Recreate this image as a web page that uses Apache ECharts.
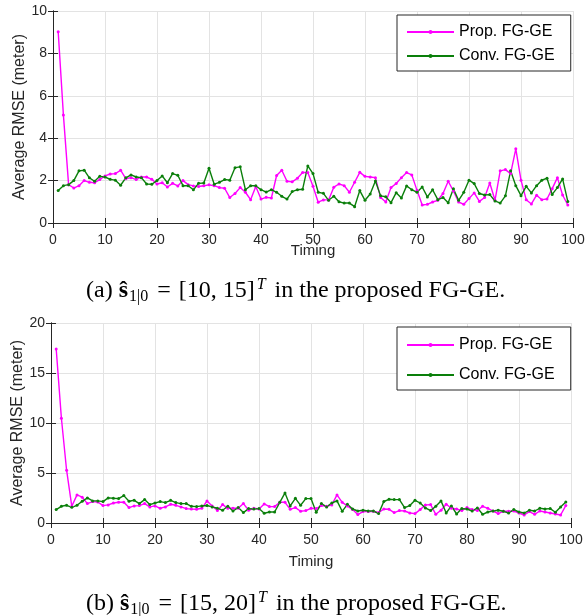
<!DOCTYPE html>
<html>
<head>
<meta charset="utf-8">
<script src="https://cdn.jsdelivr.net/npm/echarts@6/dist/echarts.min.js"></script>
<style>html,body{margin:0;padding:0;background:#fff;}#c{width:585px;height:616px;}</style>
</head>
<body>
<div id="c"></div>
<script>
const timing = [1,2,3,4,5,6,7,8,9,10,11,12,13,14,15,16,17,18,19,20,21,22,23,24,25,26,27,28,29,30,31,32,33,34,35,36,37,38,39,40,41,42,43,44,45,46,47,48,49,50,51,52,53,54,55,56,57,58,59,60,61,62,63,64,65,66,67,68,69,70,71,72,73,74,75,76,77,78,79,80,81,82,83,84,85,86,87,88,89,90,91,92,93,94,95,96,97,98,99];
const seriesNames = ['Prop. FG-GE', 'Conv. FG-GE'];
const xTicks = [0,10,20,30,40,50,60,70,80,90,100];
const yTicksA = [0,2,4,6,8,10];
const yTicksB = [0,5,10,15,20];

const propA = [9.02,5.1,1.81,1.65,1.76,2.0,1.92,1.9,2.05,2.22,2.31,2.33,2.49,2.09,2.14,2.05,2.17,2.17,2.06,1.84,1.9,1.7,1.87,1.75,2.0,1.81,1.75,1.72,1.76,1.8,1.76,1.67,1.64,1.2,1.39,1.67,1.45,1.1,1.72,1.13,1.21,1.18,2.24,2.49,1.97,1.94,2.11,2.38,2.38,1.73,0.98,1.09,1.09,1.69,1.84,1.76,1.45,1.92,2.39,2.2,2.17,2.14,1.2,0.99,1.67,1.86,2.14,2.38,2.27,1.54,0.85,0.88,0.99,1.07,1.39,1.97,1.51,0.99,0.88,1.15,1.42,1.02,1.2,1.89,1.07,2.46,2.52,2.33,3.5,2.02,1.1,0.9,1.31,1.1,1.13,1.62,2.14,1.32,0.85];
const convA = [1.53,1.76,1.81,2.0,2.46,2.49,2.13,1.97,2.2,2.17,2.06,2.02,1.78,2.13,2.27,2.17,2.14,1.84,1.83,2.0,2.22,1.9,2.33,2.25,1.76,1.76,1.57,1.87,1.89,2.58,1.83,1.92,2.05,2.02,2.61,2.65,1.57,1.76,1.76,1.57,1.46,1.57,1.45,1.26,1.13,1.48,1.57,1.59,2.69,2.33,1.45,1.4,1.07,1.26,1.0,0.94,0.94,0.77,1.53,1.07,1.37,1.98,1.28,1.24,0.96,1.43,1.18,1.75,1.57,1.45,1.7,1.23,1.57,1.1,1.2,0.96,1.61,1.07,1.45,2.02,1.86,1.39,1.32,1.34,1.04,0.94,1.28,2.46,1.76,1.29,1.73,1.42,1.76,2.02,2.11,1.35,1.67,2.08,1.02];
const propB = [17.4,10.47,5.28,1.67,2.81,2.58,1.94,2.14,2.1,1.74,1.81,2.0,2.07,2.07,1.54,1.71,1.74,1.94,1.61,1.71,1.47,1.61,1.87,1.77,1.61,1.44,1.4,1.37,1.47,2.2,1.7,1.25,1.84,1.47,1.47,1.47,1.94,1.27,1.47,1.4,1.91,1.64,1.64,2.07,2.07,1.37,1.54,1.17,1.24,1.47,1.44,1.74,1.67,1.81,2.81,2.07,1.71,1.34,0.84,1.14,1.14,1.17,1.04,1.4,1.37,1.04,1.24,1.2,1.0,0.94,1.34,1.81,1.84,0.87,1.27,1.87,1.47,1.4,1.24,1.54,1.34,1.24,1.67,1.47,1.2,0.94,1.17,1.17,1.2,1.0,0.8,1.14,0.87,1.2,1.1,1.0,0.9,0.8,1.74];
const convB = [1.34,1.67,1.77,1.57,1.77,2.17,2.51,2.21,2.21,2.14,2.51,2.47,2.44,2.74,2.17,2.27,1.94,2.34,1.84,2.0,2.14,2.04,2.27,2.04,1.94,1.94,1.67,1.64,1.71,1.75,1.61,1.48,1.27,1.67,1.2,1.54,1.04,1.44,1.4,1.44,0.97,1.1,1.1,2.07,3.01,1.71,2.47,1.77,2.44,2.44,1.07,1.94,1.61,2.0,2.21,1.17,1.87,1.4,1.2,1.27,1.2,1.2,0.94,2.15,2.37,2.34,2.34,1.54,1.74,2.27,2.0,1.51,1.24,1.67,2.21,1.0,1.71,0.9,1.44,1.4,1.2,1.51,0.87,1.1,1.2,1.27,1.17,1.0,1.34,1.1,1.0,1.27,1.2,1.47,1.4,1.44,1.07,1.61,2.11];

const AX = '#262626';
const GRID = '#e3e3e3';
const PINK = '#ff00ff';
const GREEN = '#0a7f0a';
const FONT = 'Liberation Sans, Arial, Helvetica, sans-serif';
const SERIF = 'Liberation Serif, Times New Roman, serif';

function pairs(vals){ return timing.map((t,i)=>[t, vals[i]]); }

function xMain(gi, name){
  return {type:'value', gridIndex:gi, min:xTicks[0], max:xTicks[xTicks.length-1], interval:10,
    name:name, nameLocation:'middle', nameGap: gi===0 ? 20 : 31, nameMoveOverlap:false,
    nameTextStyle:{color:AX, fontFamily:FONT, fontSize:15},
    axisLine:{show:true, lineStyle:{color:AX, width:1}},
    axisTick:{show:true, inside:true, length:5, lineStyle:{color:AX}},
    axisLabel:{color:AX, fontFamily:FONT, fontSize:14, margin:10},
    splitLine:{show:true, lineStyle:{color:GRID, width:1}}};
}
function xTop(gi){
  return {type:'value', gridIndex:gi, position:'top', min:0, max:100, interval:10,
    axisLine:{show:true, lineStyle:{color:AX, width:1}},
    axisTick:{show:true, inside:true, length:5, lineStyle:{color:AX}},
    axisLabel:{show:false}, splitLine:{show:false}};
}
function yMain(gi, ticks){
  return {type:'value', gridIndex:gi, min:ticks[0], max:ticks[ticks.length-1], interval:ticks[1]-ticks[0],
    name:'Average RMSE (meter)', nameLocation:'middle', nameGap:25, nameRotate:90, nameMoveOverlap:false,
    nameTextStyle:{color:AX, fontFamily:FONT, fontSize:16},
    axisLine:{show:true, lineStyle:{color:AX, width:1}},
    axisTick:{show:true, inside:true, length:5, lineStyle:{color:AX}},
    axisLabel:{color:AX, fontFamily:FONT, fontSize:14, margin:6},
    splitLine:{show:true, lineStyle:{color:GRID, width:1}}};
}
function yRight(gi, ticks){
  return {type:'value', gridIndex:gi, position:'right', min:ticks[0], max:ticks[ticks.length-1], interval:ticks[1]-ticks[0],
    axisLine:{show:true, lineStyle:{color:AX, width:1}},
    axisTick:{show:true, inside:true, length:5, lineStyle:{color:AX}},
    axisLabel:{show:false}, splitLine:{show:false}};
}
function line(name, xi, yi, vals, color){
  return {type:'line', name:name, xAxisIndex:xi, yAxisIndex:yi, data:pairs(vals),
    symbol:'circle', symbolSize:3, showSymbol:true, animation:false,
    lineStyle:{color:color, width:1.4}, itemStyle:{color:color}};
}

const rich = {
  n:{fontFamily:SERIF, fontSize:24, fontWeight:'normal', color:'#000', lineHeight:28},
  eq:{fontFamily:SERIF, fontSize:24, fontWeight:'normal', color:'#000', lineHeight:28, padding:[0,8,0,9]},
  b:{fontFamily:SERIF, fontSize:24, fontWeight:'bold', color:'#000', lineHeight:28},
  sub:{fontFamily:SERIF, fontSize:16, fontWeight:'normal', color:'#000', verticalAlign:'bottom', lineHeight:28, padding:[0,0,0,1]},
  sup:{fontFamily:SERIF, fontSize:16, fontWeight:'normal', fontStyle:'italic', color:'#000', verticalAlign:'top', lineHeight:28, padding:[0,9,0,2]}
};
function caption(letter, v1, v2){
  return '{n|(' + letter + ') }{b|ŝ}{sub|1|0}{eq|=}{n|[' + v1 + ', ' + v2 + ']}{sup|T}{n|in the proposed FG-GE.}';
}

function legend(top, pad, gap){
  return {data:seriesNames, orient:'vertical', left:397, top:top, padding:pad, itemGap:gap,
    itemWidth:47, itemHeight:5, backgroundColor:'#fff', borderColor:'#262626', borderWidth:1,
    textStyle:{color:'#000', fontFamily:FONT, fontSize:16}, selectedMode:false};
}

const chart = echarts.init(document.getElementById('c'), null, {renderer:'canvas'});
chart.setOption({
  animation:false,
  backgroundColor:'#fff',
  grid:[{left:53, right:12, top:11, height:212, containLabel:false, outerBoundsMode:'none'},
        {left:51, right:14, top:323, height:200, containLabel:false, outerBoundsMode:'none'}],
  xAxis:[xMain(0,'Timing'), xTop(0), xMain(1,'Timing'), xTop(1)],
  yAxis:[yMain(0,yTicksA), yRight(0,yTicksA), yMain(1,yTicksB), yRight(1,yTicksB)],
  legend:[legend(15, [9,16,7,9], 8), legend(327, [10,16,7,9], 14)],
  title:[
    {text:caption('a', 10, 15), left:81, top:272, textStyle:{fontWeight:'normal', rich:rich}},
    {text:caption('b', 15, 20), left:81, top:585, textStyle:{fontWeight:'normal', rich:rich}}
  ],
  series:[
    line(seriesNames[0], 0, 0, propA, PINK),
    line(seriesNames[1], 0, 0, convA, GREEN),
    line(seriesNames[0], 2, 2, propB, PINK),
    line(seriesNames[1], 2, 2, convB, GREEN)
  ]
});
</script>
</body>
</html>
